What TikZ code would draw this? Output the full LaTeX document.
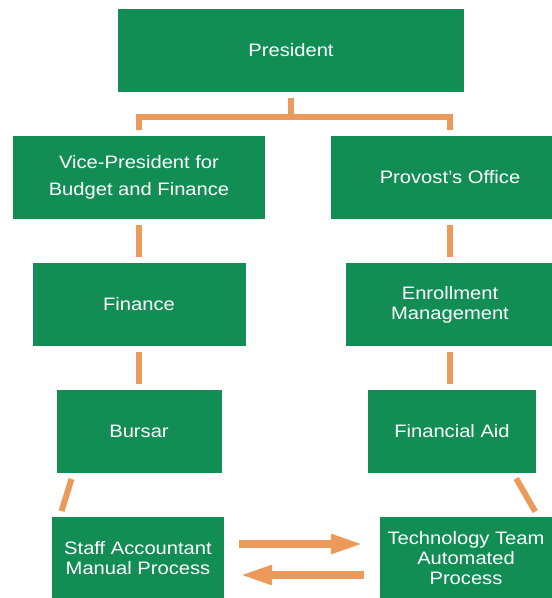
\documentclass[tikz,border=0pt]{standalone}
\usepackage{fontspec}
\setmainfont{Liberation Sans}[FakeStretch=1.12]
\usetikzlibrary{arrows.meta}
\definecolor{boxgreen}{RGB}{18,142,85}
\definecolor{linkorange}{RGB}{236,154,92}
\begin{document}
\begin{tikzpicture}[x=1pt, y=-1pt,
	box/.style={shape=rectangle, fill=boxgreen, text=white, align=center, inner sep=0pt,
		minimum height=83pt, font=\fontsize{18}{20}\selectfont},
	link/.style={draw=linkorange, line width=6pt, shorten <=6pt, shorten >=6pt},
	flow/.style={draw=linkorange, line width=8pt, -{Triangle[length=33pt, width=18pt]}}]
	\useasboundingbox (0,0) rectangle (552,598);
	\clip (0,0) rectangle (552,598);

	\node[box, minimum width=346pt]  (0) at (291,50)    {President};
	\node[box, minimum width=252pt]  (1) at (139,177.5) {Vice-President for\\[7pt]Budget and Finance};
	\node[box, minimum width=238pt]  (2) at (450,177.5) {Provost's Office};
	\node[box, minimum width=213pt]  (3) at (139,304.5) {Finance};
	\node[box, minimum width=208pt]  (4) at (450,304.5) {Enrollment\\Management};
	\node[box, minimum width=165pt]  (5) at (139,431.5) {Bursar};
	\node[box, minimum width=168pt]  (6) at (452,431.5) {Financial Aid};
	\node[box, minimum width=172pt]  (7) at (138,558.5) {Staff Accountant\\Manual Process};
	\node[box, minimum width=172pt]  (8) at (466,558.5) {Technology Team\\Automated\\Process};

	\coordinate (j) at (291,117);

	\path [link, shorten >=0pt] (0) edge (j);
	\draw [link, line join=miter] (1.north) |- (j) -| (2.north);
	\path [link] (1) edge (3);
	\path [link] (2) edge (4);
	\path [link] (3) edge (5);
	\path [link] (4.south) edge (4.south |- 6.north);
	\path [link] ([shift={(17,0)}]5.south west) edge ([shift={(8,0)}]7.north west);
	\path [link] ([shift={(-23,0)}]6.south east) edge ([shift={(-14,0)}]8.north east);

	\draw [flow] ([shift={(15,-14.5)}]7.east) -- ([shift={(-16,-14.5)}]8.west);
	\draw [flow] ([shift={(-16,16.5)}]8.west) -- ([shift={(15,16.5)}]7.east);
\end{tikzpicture}
\end{document}
